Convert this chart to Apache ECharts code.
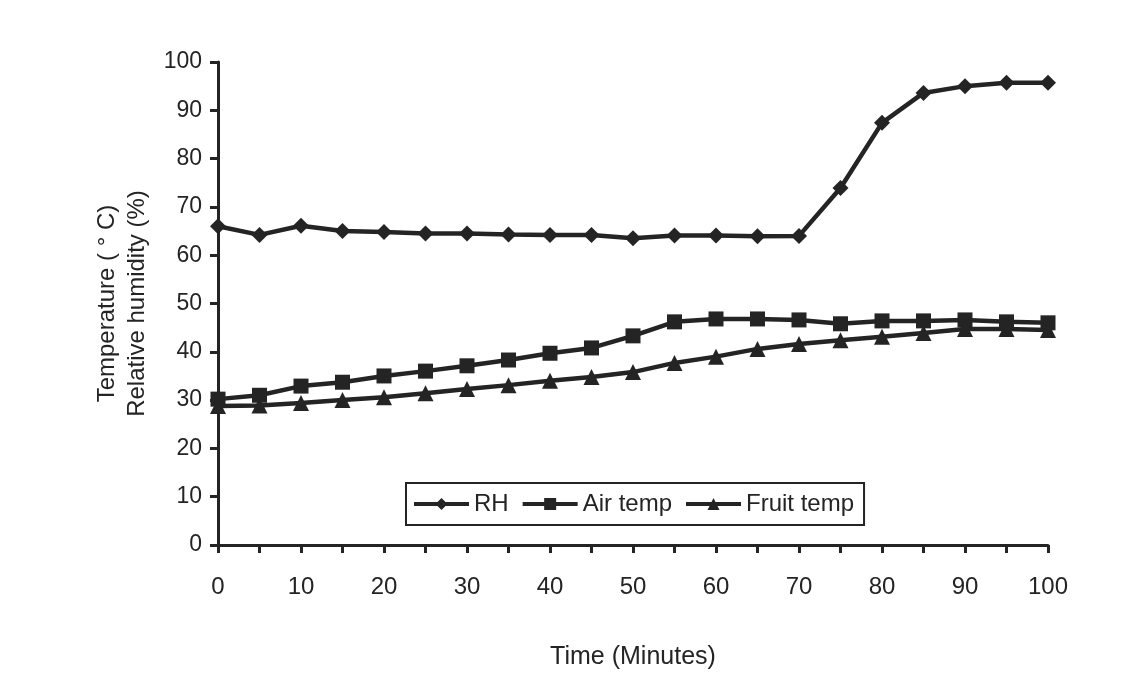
<!DOCTYPE html>
<html>
<head>
<meta charset="utf-8">
<script src="https://cdn.jsdelivr.net/npm/echarts@6/dist/echarts.min.js"></script>
<style>
  html, body { margin: 0; padding: 0; background: #fff; }
  #chart { width: 1135px; height: 675px; }
</style>
</head>
<body>
<div id="chart"></div>
<script>
// time points (minutes)
const times = ['0', '5', '10', '15', '20', '25', '30', '35', '40', '45', '50',
  '55', '60', '65', '70', '75', '80', '85', '90', '95', '100']

// values
const rh = [66, 64.2, 66.1, 65, 64.8, 64.5, 64.5, 64.3, 64.2, 64.2, 63.5,
  64.1, 64.1, 63.9, 64, 73.9, 87.4, 93.6, 95, 95.7, 95.7]
const airTemp = [30.2, 31, 32.9, 33.7, 35, 36, 37.1, 38.3, 39.7, 40.8, 43.3,
  46.2, 46.8, 46.8, 46.6, 45.8, 46.4, 46.4, 46.6, 46.2, 46]
const fruitTemp = [28.8, 28.9, 29.4, 30, 30.6, 31.4, 32.3, 33.1, 34, 34.8, 35.8,
  37.7, 39, 40.6, 41.6, 42.4, 43.1, 43.9, 44.7, 44.7, 44.5]

const yTicks = [0, 10, 20, 30, 40, 50, 60, 70, 80, 90, 100]

const ink = '#242424'
const font = 'Liberation Sans, Arial, sans-serif'

const chart = echarts.init(document.getElementById('chart'))

const mkSeries = (name, data, symbol, size) => ({
  name: name,
  type: 'line',
  data: data,
  symbol: symbol,
  symbolSize: size,
  showAllSymbol: true,
  lineStyle: { color: ink, width: 4.5 },
  itemStyle: { color: ink },
  emphasis: { disabled: true }
})

chart.setOption({
  animation: false,
  backgroundColor: '#fff',
  grid: { left: 218, right: 87, top: 62, bottom: 130 },
  legend: {
    left: 406,
    top: 483,
    itemWidth: 55,
    itemHeight: 15,
    itemGap: 12,
    padding: [9, 10, 9, 6],
    borderColor: ink,
    borderWidth: 2,
    lineStyle: { width: 4 },
    textStyle: { color: ink, fontSize: 24, fontFamily: font },
    data: ['RH', 'Air temp', 'Fruit temp']
  },
  xAxis: {
    type: 'category',
    data: times,
    boundaryGap: false,
    name: 'Time (Minutes)',
    nameLocation: 'middle',
    nameGap: 100,
    nameTextStyle: { color: ink, fontSize: 25, fontFamily: font },
    axisLine: { lineStyle: { color: ink, width: 3 } },
    axisTick: { show: true, interval: 0, length: 8, lineStyle: { color: ink, width: 3 } },
    axisLabel: { interval: 1, color: ink, fontSize: 24, fontFamily: font, margin: 30 },
    splitLine: { show: false }
  },
  yAxis: {
    type: 'value',
    min: 0,
    max: 100,
    interval: 10,
    name: 'Temperature ( \u00b0 C)\nRelative humidity (%)',
    nameLocation: 'middle',
    nameRotate: 90,
    nameGap: 66,
    nameTextStyle: { color: ink, fontSize: 24, fontFamily: font, lineHeight: 30 },
    axisLine: { show: true, lineStyle: { color: ink, width: 3 } },
    axisTick: { show: true, length: 8, lineStyle: { color: ink, width: 3 } },
    axisLabel: {
      color: ink, fontSize: 23, fontFamily: font, margin: 16,
      formatter: v => (yTicks.includes(v) ? String(v) : '')
    },
    splitLine: { show: false }
  },
  series: [
    mkSeries('RH', rh, 'diamond', 16),
    mkSeries('Air temp', airTemp, 'rect', 15),
    mkSeries('Fruit temp', fruitTemp, 'triangle', 16)
  ]
})
</script>
</body>
</html>
